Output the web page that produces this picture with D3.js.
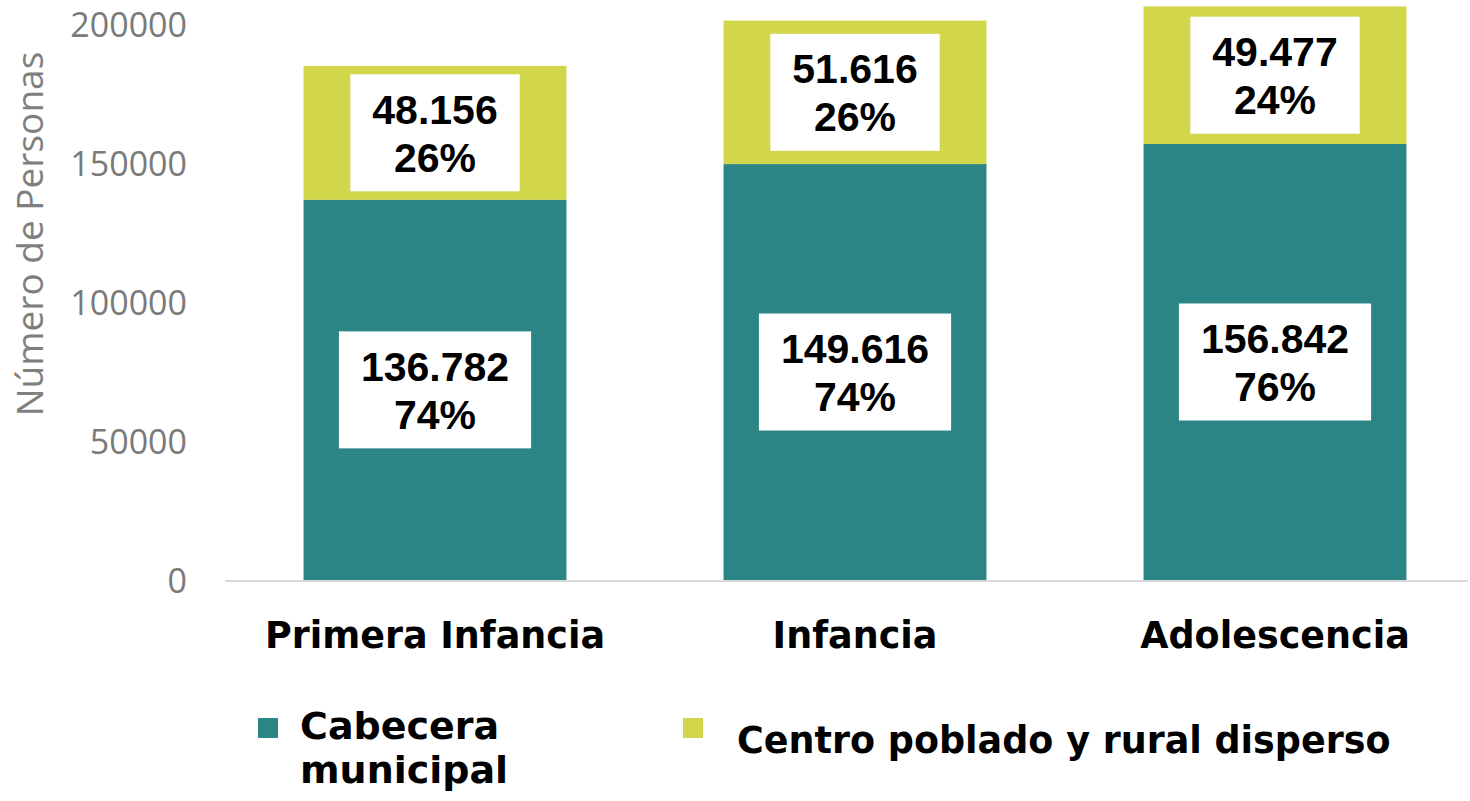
<!DOCTYPE html>
<html>
<head>
<meta charset="utf-8">
<script src="https://cdn.jsdelivr.net/npm/d3@7"></script>
<style>
  html, body { margin: 0; padding: 0; background: #fff; }
  svg { display: block; }
  .tickLabel { font-family: "Open Sans", sans-serif; font-size: 34px; fill: #7a7a7a; }
  .yTitle { font-family: "Open Sans", sans-serif; font-size: 37px; fill: #7f7f7f; }
  .catLabel { font-family: "DejaVu Sans", sans-serif; font-weight: bold; font-size: 36.5px; fill: #000; }
  .valLabel { font-family: "Liberation Sans", Arial, sans-serif; font-weight: bold; font-size: 41px; fill: #000; }
  .legendText { font-family: "DejaVu Sans", sans-serif; font-weight: bold; fill: #000; }
</style>
</head>
<body>
<div id="chart"></div>
<script>
// Data
var categories = ["Primera Infancia", "Infancia", "Adolescencia"];
var cabecera = [136782, 149616, 156842];
var rural = [48156, 51616, 49477];
var cabeceraPct = ["74%", "74%", "76%"];
var ruralPct = ["26%", "26%", "24%"];
var seriesNames = ["Cabecera municipal", "Centro poblado y rural disperso"];
var seriesColors = ["#2b8585", "#d1d64b"];
var yTicks = [0, 50000, 100000, 150000, 200000];

var width = 1470, height = 801;

// Spanish style thousands separator
var locale = d3.formatLocale({ decimal: ",", thousands: ".", grouping: [3], currency: ["$", ""] });
var fmt = locale.format(",d");

var rows = categories.map(function (c, i) {
    return { cat: c, cabecera: cabecera[i], rural: rural[i], pcts: [cabeceraPct[i], ruralPct[i]] };
});

var stack = d3.stack().keys(["cabecera", "rural"]);
var series = stack(rows);

var x = d3.scaleBand()
    .domain(categories)
    .range([225, 1485])
    .paddingInner(0.374)
    .paddingOuter(0.187);

var y = d3.scaleLinear()
    .domain([0, 200000])
    .range([580, 24]);

var svg = d3.select("#chart")
    .append("svg")
    .attr("width", width)
    .attr("height", height);

// Y axis title
svg.append("text")
    .attr("class", "yTitle")
    .attr("transform", "translate(43,234) rotate(-90)")
    .attr("text-anchor", "middle")
    .text("Número de Personas");

// Y axis tick labels (no line, no tick marks)
var yAxis = d3.axisLeft(y)
    .tickValues(yTicks)
    .tickSize(0)
    .tickPadding(0)
    .tickFormat(d3.format("d"));

var yG = svg.append("g")
    .attr("transform", "translate(187,0)")
    .call(yAxis);
yG.select(".domain").remove();
yG.selectAll("text")
    .attr("class", "tickLabel")
    .attr("font-family", null)
    .attr("font-size", null)
    .attr("fill", null)
    .attr("dy", "0.36em");

// Baseline
svg.append("line")
    .attr("x1", 225).attr("x2", 1468)
    .attr("y1", y(0) + 1).attr("y2", y(0) + 1)
    .attr("stroke", "#d9d9d9")
    .attr("stroke-width", 2);

// Bars
var layers = svg.append("g")
    .selectAll("g")
    .data(series)
    .enter().append("g")
    .attr("fill", function (d, i) { return seriesColors[i]; });

layers.selectAll("rect")
    .data(function (d) { return d; })
    .enter().append("rect")
    .attr("x", function (d) { return x(d.data.cat); })
    .attr("width", x.bandwidth())
    .attr("y", function (d) { return y(d[1]); })
    .attr("height", function (d) { return y(d[0]) - y(d[1]); });

// Value labels in white boxes
var lineGap = 48, boxH = 117, capH = 29.4;
series.forEach(function (s, si) {
    s.forEach(function (d) {
        var cx = x(d.data.cat) + x.bandwidth() / 2;
        var cy = (y(d[0]) + y(d[1])) / 2;
        var g = svg.append("g");
        var box = g.append("rect").attr("fill", "#fff");
        var t1 = g.append("text").attr("class", "valLabel")
            .attr("text-anchor", "middle")
            .attr("x", cx).attr("y", cy - lineGap / 2 + capH / 2)
            .text(fmt(d[1] - d[0]));
        var t2 = g.append("text").attr("class", "valLabel")
            .attr("text-anchor", "middle")
            .attr("x", cx).attr("y", cy + lineGap / 2 + capH / 2)
            .text(d.data.pcts[si]);
        var w = Math.max(t1.node().getComputedTextLength(), t2.node().getComputedTextLength()) + 44;
        box.attr("x", cx - w / 2).attr("y", cy - boxH / 2)
            .attr("width", w).attr("height", boxH);
    });
});

// Category labels
svg.append("g")
    .selectAll("text")
    .data(categories)
    .enter().append("text")
    .attr("class", "catLabel")
    .attr("text-anchor", "middle")
    .attr("x", function (d) { return x(d) + x.bandwidth() / 2; })
    .attr("y", 648)
    .text(function (d) { return d; });

// Legend
var legendItems = [
    { name: seriesNames[0], lines: ["Cabecera", "municipal"], x: 258, size: 38, base: 739, gap: 44 },
    { name: seriesNames[1], lines: [seriesNames[1]], x: 683, size: 36.5, base: 753, gap: 44 }
];

var legend = svg.append("g")
    .selectAll("g")
    .data(legendItems)
    .enter().append("g");

legend.append("rect")
    .attr("x", function (d) { return d.x; })
    .attr("y", 718)
    .attr("width", 20)
    .attr("height", 20)
    .attr("fill", function (d, i) { return seriesColors[i]; });

legend.each(function (d) {
    var t = d3.select(this).append("text")
        .attr("class", "legendText")
        .attr("font-size", d.size + "px")
        .attr("y", d.base);
    t.selectAll("tspan")
        .data(d.lines)
        .enter().append("tspan")
        .attr("x", d.x + (d.lines.length > 1 ? 42 : 54))
        .attr("dy", function (l, i) { return i === 0 ? 0 : d.gap; })
        .text(function (l) { return l; });
});
</script>
</body>
</html>
